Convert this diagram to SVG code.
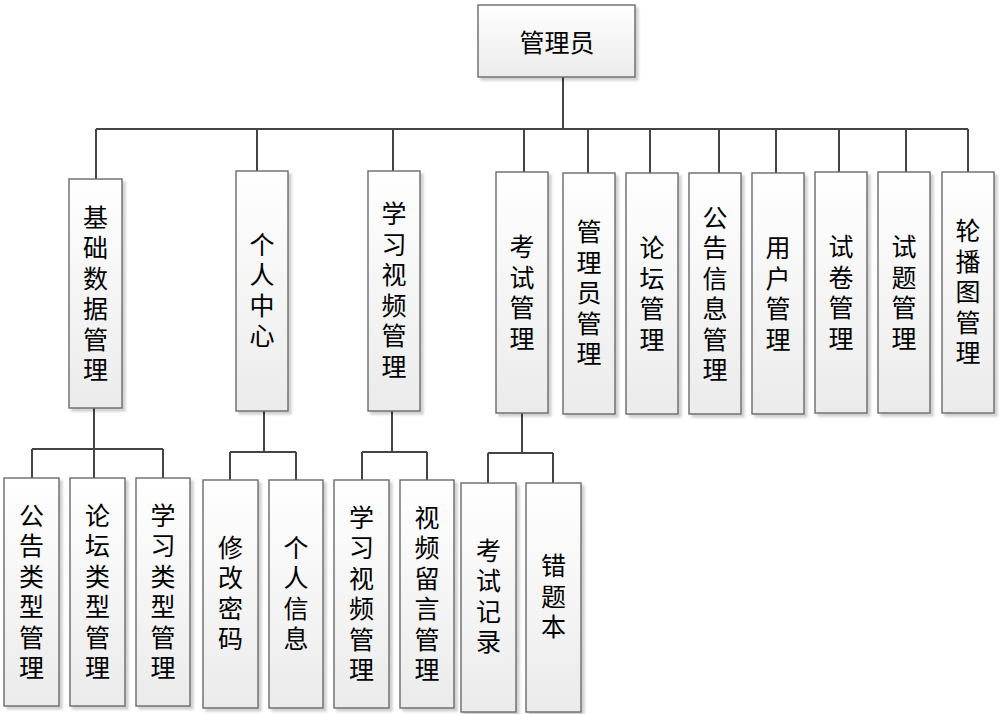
<svg xmlns="http://www.w3.org/2000/svg" width="1007" height="714" viewBox="0 0 1007 714">
<style>
.box{fill:url(#g);stroke:#6a6a6a;stroke-width:1.4;filter:url(#sh)}
.t{font-family:"Noto Sans CJK SC","Noto Sans",sans-serif;font-size:25px;fill:#000;text-anchor:middle;dominant-baseline:central}
.v{font-family:"Noto Sans CJK SC","Noto Sans",sans-serif;font-size:25px;fill:#000;text-anchor:middle;writing-mode:vertical-rl;letter-spacing:5.5px}
.c{fill:none;stroke:#444;stroke-width:2}
</style>
<defs>
<linearGradient id="g" x1="0" y1="0" x2="0" y2="1">
<stop offset="0" stop-color="#ffffff"/>
<stop offset="1" stop-color="#ebebeb"/>
</linearGradient>
<filter id="sh" x="-20%" y="-5%" width="150%" height="115%">
<feDropShadow dx="3" dy="3" stdDeviation="1.2" flood-color="#000" flood-opacity="0.18"/>
</filter>
</defs>
<rect width="1007" height="714" fill="#fff"/>
<g id="connectors" class="c">
<path d="M563 77V129M96 129H968"/>
<path d="M96 129V179M257 129V171M393 129V171M524 129V172M588 129V173M650 129V173M719 129V173M776 129V173M839 129V172M906 129V172M968 129V172"/>
<path d="M94 408V449M32 449H163M32 449V478M94 449V478M163 449V478"/>
<path d="M264 411V452M230 452H296M230 452V480M296 452V480"/>
<path d="M392 411V452M362 452H427M362 452V480M427 452V480"/>
<path d="M522 413V453M488 453H553M488 453V483M553 453V483"/>
</g>
<g id="n-root"><rect class="box" x="478" y="5" width="157" height="72"/><text class="t" x="557" y="41">管理员</text></g>
<g id="n-jichu"><rect class="box" x="69" y="179" width="53" height="229"/><text class="v" x="95.5" y="296">基础数据管理</text></g>
<g id="n-geren"><rect class="box" x="236" y="171" width="52" height="240"/><text class="v" x="262" y="292.5">个人中心</text></g>
<g id="n-xuexi"><rect class="box" x="368" y="171" width="52" height="240"/><text class="v" x="394" y="292.5">学习视频管理</text></g>
<g id="n-kaoshi"><rect class="box" x="496" y="172" width="52" height="241"/><text class="v" x="522" y="295">考试管理</text></g>
<g id="n-admin"><rect class="box" x="563" y="173" width="52" height="241"/><text class="v" x="589" y="295.5">管理员管理</text></g>
<g id="n-luntan"><rect class="box" x="626" y="173" width="52" height="241"/><text class="v" x="652" y="296">论坛管理</text></g>
<g id="n-gonggao"><rect class="box" x="689" y="173" width="52" height="241"/><text class="v" x="715" y="296">公告信息管理</text></g>
<g id="n-yonghu"><rect class="box" x="752" y="173" width="52" height="241"/><text class="v" x="778" y="296">用户管理</text></g>
<g id="n-shijuan"><rect class="box" x="815" y="172" width="52" height="241"/><text class="v" x="841" y="295">试卷管理</text></g>
<g id="n-shiti"><rect class="box" x="878" y="172" width="52" height="241"/><text class="v" x="904" y="295">试题管理</text></g>
<g id="n-lunbo"><rect class="box" x="942" y="172" width="52" height="241"/><text class="v" x="968" y="294.5">轮播图管理</text></g>
<g id="n-ggleixing"><rect class="box" x="4" y="478" width="55" height="228"/><text class="v" x="31.5" y="594">公告类型管理</text></g>
<g id="n-ltleixing"><rect class="box" x="70" y="478" width="55" height="228"/><text class="v" x="97.5" y="594">论坛类型管理</text></g>
<g id="n-xxleixing"><rect class="box" x="136" y="478" width="54" height="228"/><text class="v" x="163" y="594">学习类型管理</text></g>
<g id="n-xiugai"><rect class="box" x="203" y="480" width="55" height="228"/><text class="v" x="230.5" y="595.5">修改密码</text></g>
<g id="n-gerenxinxi"><rect class="box" x="269" y="480" width="54" height="228"/><text class="v" x="296" y="595.5">个人信息</text></g>
<g id="n-xxshipin"><rect class="box" x="334" y="480" width="55" height="228"/><text class="v" x="361.5" y="596">学习视频管理</text></g>
<g id="n-liuyan"><rect class="box" x="400" y="480" width="54" height="228"/><text class="v" x="427" y="596">视频留言管理</text></g>
<g id="n-jilu"><rect class="box" x="461" y="483" width="55" height="229"/><text class="v" x="488.5" y="598.5">考试记录</text></g>
<g id="n-cuoti"><rect class="box" x="526" y="483" width="55" height="229"/><text class="v" x="553.5" y="599">错题本</text></g>
</svg>
